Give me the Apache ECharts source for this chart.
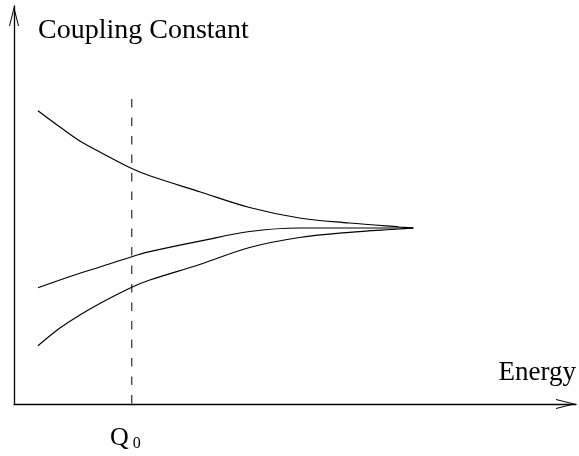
<!DOCTYPE html>
<html>
<head>
<meta charset="utf-8">
<script src="https://cdn.jsdelivr.net/npm/echarts@6/dist/echarts.min.js"></script>
<style>
html,body{margin:0;padding:0;background:#fff;}
#chart{width:579px;height:456px;}
</style>
</head>
<body>
<div id="chart"></div>
<script>
// Schematic units: energy (x) and coupling strength (y)
const energy = [24, 46, 66, 86, 118, 136, 186, 236, 286, 336, 386, 400];
const upperCoupling  = [293.3, 277, 263, 252, 235.5, 228.3, 212.3, 196.5, 186, 181, 177, 176];
const middleCoupling = [116.3, 124, 130.7, 137, 147.3, 152.3, 162.8, 172.5, 176, 176, 176, 176];
const lowerCoupling  = [58.3, 76, 89, 100.5, 116.7, 124, 139.5, 156.5, 166.5, 171.7, 175, 176];
const q0 = 118;
const q0LineTop = 305;
const xMax = 563, yMax = 398;

function pairs(xs, ys){ return xs.map((x,i)=>[x, ys[i]]); }

const chart = echarts.init(document.getElementById('chart'), null, {renderer:'canvas'});
const arrowPath = 'path://M5,0 L10,20 L9,20 L5,4 L1,20 L0,20 Z';
const font = 'Liberation Serif';
const curveStyle = {color:'#000', width:1.2};
chart.setOption({
  animation:false,
  backgroundColor:'#fff',
  grid:{left:14, right:2, top:6, bottom:52, containLabel:false},
  xAxis:{
    type:'value', min:0, max:xMax, interval:q0,
    name:'Energy', nameLocation:'end', nameGap:0,
    nameTextStyle:{fontFamily:font, fontSize:27, color:'#000', align:'right', verticalAlign:'bottom', padding:[0,0,18,0]},
    axisLine:{show:true, onZero:false, lineStyle:{color:'#000', width:1.3}, symbol:['none', arrowPath], symbolSize:[10,20], symbolOffset:[0,-10]},
    axisTick:{show:false},
    splitLine:{show:false},
    axisLabel:{
      show:true, margin:20, showMinLabel:true, showMaxLabel:false,
      formatter:function(v){ return v === q0 ? '{q|Q}{s|0}' : ''; },
      padding:[0,13,0,0],
      rich:{
        q:{fontFamily:font, fontSize:26, color:'#000'},
        s:{fontFamily:font, fontSize:16, color:'#000', padding:[12,0,0,4]}
      }
    }
  },
  yAxis:{
    type:'value', min:0, max:yMax, interval:yMax,
    name:'Coupling Constant', nameLocation:'end', nameGap:-25,
    nameTextStyle:{fontFamily:font, fontSize:28, color:'#000', align:'left', verticalAlign:'middle', padding:[0,0,0,24]},
    axisLine:{show:true, onZero:false, lineStyle:{color:'#000', width:1.3}, symbol:['none', arrowPath], symbolSize:[10,20], symbolOffset:[0,-10]},
    axisTick:{show:false},
    splitLine:{show:false},
    axisLabel:{show:false}
  },
  series:[
    {type:'line', data:pairs(energy, upperCoupling), symbol:'none', smooth:0.35, lineStyle:curveStyle, silent:true},
    {type:'line', data:pairs(energy, middleCoupling), symbol:'none', smooth:0.35, lineStyle:curveStyle, silent:true},
    {type:'line', data:pairs(energy, lowerCoupling), symbol:'none', smooth:0.35, lineStyle:curveStyle, silent:true},
    {type:'line', data:[[q0, q0LineTop],[q0, 0]], symbol:'none', lineStyle:{color:'#000', width:1, type:[8.5,10]}, silent:true}
  ]
});
</script>
</body>
</html>
